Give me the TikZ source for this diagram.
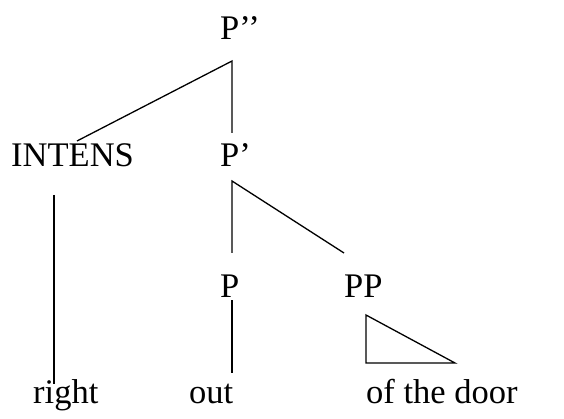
\documentclass[tikz,border=0pt]{standalone}
\usepackage{fontspec}
\setmainfont{Liberation Serif}
\begin{document}
\begin{tikzpicture}[x=1pt,y=-1pt,
  lab/.style={anchor=base west,inner sep=0pt,font=\fontsize{34.5}{36}\selectfont},
  edge/.style={line width=1.3pt,line cap=butt}]
\useasboundingbox (0,0) rectangle (564,419);
\node[lab] (Ppp) at (220,40) {P’’};
\node[lab] (intens) at (11,167) {INTENS};
\node[lab] (Pp) at (220,167) {P’};
\node[lab] (P) at (220,297) {P};
\node[lab] (PP) at (344,297) {PP};
\node[lab] (right) at (33,403) {right};
\node[lab] (out) at (189,403) {out};
\node[lab] (door) at (366,403) {of the door};
% connector end points
\coordinate (ppTop) at (232,61);
\coordinate (ppBot) at (232,133);
\coordinate (intTop) at (77,141);
\coordinate (pTop) at (232,181);
\coordinate (pBot) at (232,253);
\coordinate (ppRight) at (344,253);
\coordinate (iTop) at (54,195);
\coordinate (iBot) at (54,384);
\coordinate (oTop) at (232,300);
\coordinate (oBot) at (232,373);
\coordinate (t1) at (366,315);
\coordinate (t2) at (366,363);
\coordinate (t3) at (455,363);
\draw[edge] (intTop) -- (ppTop) -- (ppBot);
\draw[edge] (pBot) -- (pTop) -- (ppRight);
\draw[edge] (iTop) -- (iBot);
\draw[edge] (oTop) -- (oBot);
\draw[edge] (t1) -- (t2) -- (t3) -- cycle;
\end{tikzpicture}
\end{document}
